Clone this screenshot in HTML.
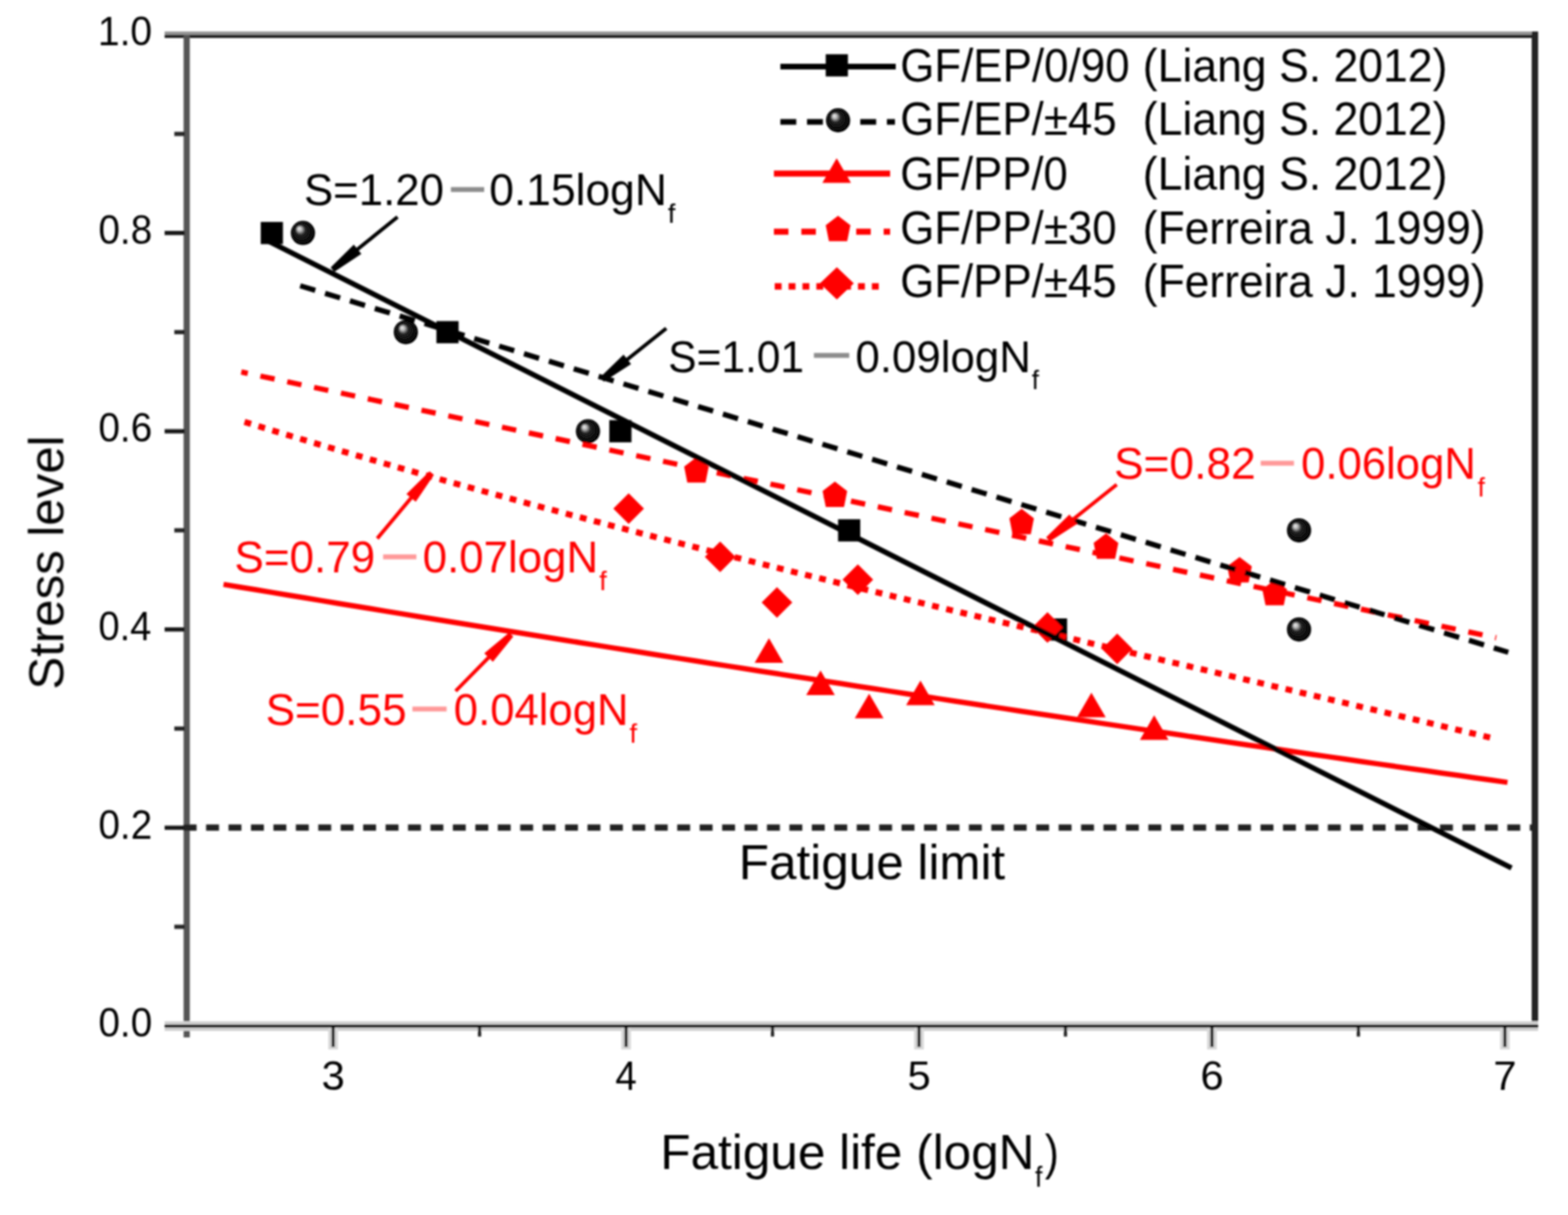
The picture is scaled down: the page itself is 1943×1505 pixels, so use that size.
<!DOCTYPE html><html><head><meta charset="utf-8"><title>Fatigue life chart</title><style>html,body{margin:0;padding:0;background:#fff;overflow:hidden}svg{display:block}</style></head><body><svg width="1943" height="1505" viewBox="0 0 1943 1505"><defs><radialGradient id="sph" cx="0.5" cy="0.5" r="0.5" fx="0.33" fy="0.3"><stop offset="0" stop-color="#f4f4f4"/><stop offset="0.18" stop-color="#bbb"/><stop offset="0.4" stop-color="#222"/><stop offset="1" stop-color="#000"/></radialGradient><filter id="bl" filterUnits="userSpaceOnUse" x="0" y="0" width="1943" height="1505"><feGaussianBlur stdDeviation="0.9"/></filter></defs><rect width="1943" height="1505" fill="#fff"/><g filter="url(#bl)" font-family="'Liberation Sans', sans-serif"><rect x="204" y="39" width="1702" height="4" fill="#949494"/><rect x="204" y="43" width="1702" height="4" fill="#1c1c1c"/><rect x="227.5" y="43" width="7.7" height="1242" fill="#545454"/><rect x="1898" y="39" width="8" height="1234" fill="#202020"/><rect x="204" y="1265" width="1702" height="12" fill="#d0d0d0"/><rect x="204" y="1269" width="1702" height="4" fill="#0a0a0a"/><rect x="204" y="1022.7" width="25" height="5.2" fill="#151515"/><rect x="204" y="777.1" width="25" height="5.2" fill="#151515"/><rect x="204" y="531.6" width="25" height="5.2" fill="#151515"/><rect x="204" y="286.0" width="25" height="5.2" fill="#151515"/><rect x="216" y="1145.4" width="13" height="5.2" fill="#252525"/><rect x="216" y="899.9" width="13" height="5.2" fill="#252525"/><rect x="216" y="654.3" width="13" height="5.2" fill="#252525"/><rect x="216" y="408.8" width="13" height="5.2" fill="#252525"/><rect x="216" y="163.3" width="13" height="5.2" fill="#252525"/><rect x="406.8" y="1273" width="12" height="27" fill="#d8d8d8"/><rect x="410.8" y="1273" width="4" height="24" fill="#222"/><rect x="769.8" y="1273" width="12" height="27" fill="#d8d8d8"/><rect x="773.8" y="1273" width="4" height="24" fill="#222"/><rect x="1132.8" y="1273" width="12" height="27" fill="#d8d8d8"/><rect x="1136.8" y="1273" width="4" height="24" fill="#222"/><rect x="1495.8" y="1273" width="12" height="27" fill="#d8d8d8"/><rect x="1499.8" y="1273" width="4" height="24" fill="#222"/><rect x="1858.8" y="1273" width="12" height="27" fill="#d8d8d8"/><rect x="1862.8" y="1273" width="4" height="24" fill="#222"/><rect x="592.3" y="1273" width="4" height="11" fill="#222"/><rect x="955.3" y="1273" width="4" height="11" fill="#222"/><rect x="1318.3" y="1273" width="4" height="11" fill="#222"/><rect x="1681.3" y="1273" width="4" height="11" fill="#222"/><rect x="323.1" y="274.9" width="27.5" height="27.5" fill="#000"/><rect x="540.8" y="397.7" width="27.5" height="27.5" fill="#000"/><rect x="755.0" y="520.4" width="27.5" height="27.5" fill="#000"/><rect x="1038.5" y="643.2" width="27.5" height="27.5" fill="#000"/><rect x="1294.8" y="766.0" width="27.5" height="27.5" fill="#000"/><circle cx="375.4" cy="288.6" r="15" fill="url(#sph)"/><circle cx="502.9" cy="411.4" r="15" fill="url(#sph)"/><circle cx="728.6" cy="534.2" r="15" fill="url(#sph)"/><circle cx="1609.7" cy="656.9" r="15" fill="url(#sph)"/><circle cx="1609.7" cy="779.7" r="15" fill="url(#sph)"/><path d="M952.9,790.5 L970.6,821.0 L935.1,821.0Z" fill="#ff0000"/><path d="M1016.8,830.6 L1034.5,861.1 L999.0,861.1Z" fill="#ff0000"/><path d="M1077.0,859.2 L1094.8,889.7 L1059.2,889.7Z" fill="#ff0000"/><path d="M1140.6,843.0 L1158.3,873.5 L1122.8,873.5Z" fill="#ff0000"/><path d="M1352.4,858.0 L1370.2,888.5 L1334.7,888.5Z" fill="#ff0000"/><path d="M1430.2,886.1 L1448.0,916.6 L1412.5,916.6Z" fill="#ff0000"/><path d="M863.0,566.2 L878.2,577.9 L874.3,597.8 L851.7,597.8 L847.8,577.9Z" fill="#ff0000"/><path d="M1034.6,596.5 L1049.8,608.2 L1045.9,628.0 L1023.3,628.0 L1019.3,608.2Z" fill="#ff0000"/><path d="M1266.0,630.2 L1281.2,641.9 L1277.3,661.8 L1254.7,661.8 L1250.8,641.9Z" fill="#ff0000"/><path d="M1370.5,660.8 L1385.8,672.4 L1381.8,692.2 L1359.2,692.2 L1355.2,672.4Z" fill="#ff0000"/><path d="M1536.0,690.0 L1551.2,701.6 L1547.3,721.5 L1524.7,721.5 L1520.8,701.6Z" fill="#ff0000"/><path d="M1579.5,718.2 L1594.8,729.9 L1590.8,749.8 L1568.2,749.8 L1564.2,729.9Z" fill="#ff0000"/><path d="M779.0,611.0 L798.0,630.0 L779.0,649.0 L760.0,630.0Z" fill="#ff0000"/><path d="M892.4,670.7 L911.4,689.7 L892.4,708.7 L873.4,689.7Z" fill="#ff0000"/><path d="M962.8,727.3 L981.8,746.3 L962.8,765.3 L943.8,746.3Z" fill="#ff0000"/><path d="M1063.0,699.0 L1082.0,718.0 L1063.0,737.0 L1044.0,718.0Z" fill="#ff0000"/><path d="M1298.0,758.3 L1317.0,777.3 L1298.0,796.3 L1279.0,777.3Z" fill="#ff0000"/><path d="M1384.4,784.8 L1403.4,803.8 L1384.4,822.8 L1365.4,803.8Z" fill="#ff0000"/><line x1="227.6" y1="1025.2" x2="1898" y2="1025.2" stroke="#222" stroke-width="7.7" stroke-dasharray="16 11.8"/><path d="M277.0,723.86 L297.1,727.22 L317.3,730.56 L337.4,733.90 L357.6,737.24 L377.7,740.57 L397.8,743.89 L418.0,747.20 L438.1,750.51 L458.3,753.82 L478.4,757.11 L498.5,760.40 L518.7,763.69 L538.8,766.96 L558.9,770.23 L579.1,773.50 L599.2,776.76 L619.4,780.01 L639.5,783.25 L659.6,786.49 L679.8,789.72 L699.9,792.95 L720.1,796.17 L740.2,799.38 L760.3,802.59 L780.5,805.79 L800.6,808.99 L820.8,812.17 L840.9,815.36 L861.0,818.53 L881.2,821.70 L901.3,824.86 L921.5,828.02 L941.6,831.17 L961.7,834.31 L981.9,837.45 L1002.0,840.58 L1022.2,843.70 L1042.3,846.82 L1062.4,849.93 L1082.6,853.04 L1102.7,856.13 L1122.8,859.23 L1143.0,862.31 L1163.1,865.39 L1183.3,868.47 L1203.4,871.53 L1223.5,874.59 L1243.7,877.65 L1263.8,880.69 L1284.0,883.73 L1304.1,886.77 L1324.2,889.80 L1344.4,892.82 L1364.5,895.84 L1384.7,898.84 L1404.8,901.85 L1424.9,904.84 L1445.1,907.83 L1465.2,910.82 L1485.4,913.80 L1505.5,916.77 L1525.6,919.73 L1545.8,922.69 L1565.9,925.64 L1586.1,928.59 L1606.2,931.53 L1626.3,934.46 L1646.5,937.38 L1666.6,940.30 L1686.7,943.22 L1706.9,946.13 L1727.0,949.03 L1747.2,951.92 L1767.3,954.81 L1787.4,957.69 L1807.6,960.57 L1827.7,963.43 L1847.9,966.30 L1868.0,969.15" fill="none" stroke="#ff0000" stroke-width="6.5"/><path d="M303.0,522.68 L322.6,528.67 L342.2,534.61 L361.8,540.51 L381.4,546.36 L401.0,552.17 L420.6,557.94 L440.3,563.66 L459.9,569.34 L479.5,574.98 L499.1,580.58 L518.7,586.14 L538.3,591.66 L557.9,597.15 L577.5,602.59 L597.1,608.00 L616.7,613.38 L636.3,618.72 L655.9,624.03 L675.5,629.30 L695.2,634.54 L714.8,639.75 L734.4,644.93 L754.0,650.08 L773.6,655.20 L793.2,660.29 L812.8,665.36 L832.4,670.39 L852.0,675.41 L871.6,680.39 L891.2,685.35 L910.8,690.29 L930.4,695.21 L950.1,700.10 L969.7,704.97 L989.3,709.83 L1008.9,714.66 L1028.5,719.47 L1048.1,724.27 L1067.7,729.04 L1087.3,733.81 L1106.9,738.55 L1126.5,743.28 L1146.1,748.00 L1165.7,752.70 L1185.3,757.39 L1204.9,762.07 L1224.6,766.74 L1244.2,771.40 L1263.8,776.05 L1283.4,780.69 L1303.0,785.32 L1322.6,789.94 L1342.2,794.56 L1361.8,799.18 L1381.4,803.78 L1401.0,808.39 L1420.6,812.99 L1440.2,817.59 L1459.8,822.19 L1479.5,826.79 L1499.1,831.38 L1518.7,835.98 L1538.3,840.58 L1557.9,845.18 L1577.5,849.79 L1597.1,854.40 L1616.7,859.01 L1636.3,863.63 L1655.9,868.26 L1675.5,872.89 L1695.1,877.53 L1714.7,882.18 L1734.4,886.84 L1754.0,891.51 L1773.6,896.20 L1793.2,900.89 L1812.8,905.59 L1832.4,910.31 L1852.0,915.05" fill="none" stroke="#ff0000" stroke-width="7.5" stroke-dasharray="8.5 9.5"/><line x1="299" y1="460.8" x2="1854" y2="790" stroke="#ff0000" stroke-width="6.5" stroke-dasharray="18 16" stroke-dashoffset="9.8"/><line x1="372" y1="354" x2="1869" y2="808" stroke="#000" stroke-width="6.5" stroke-dasharray="19.5 12.7"/><line x1="330" y1="297.3" x2="1873" y2="1075.2" stroke="#000" stroke-width="6.5"/><line x1="492.6" y1="268.7" x2="441.5" y2="310.1" stroke="#000" stroke-width="4.5"/><path d="M409.8,331.3 L438.4,303.0 L447.8,314.6 L414.2,336.7Z" fill="#000"/><line x1="825.6" y1="406.8" x2="775.8" y2="446.4" stroke="#000" stroke-width="4.5"/><path d="M743.8,467.3 L772.7,439.3 L782.0,451.0 L748.2,472.7Z" fill="#000"/><line x1="1383.8" y1="600.3" x2="1328.3" y2="644.4" stroke="#ff0000" stroke-width="4.5"/><path d="M1296.4,665.4 L1325.2,637.3 L1334.6,649.1 L1300.8,670.8Z" fill="#ff0000"/><line x1="467.5" y1="667.0" x2="510.7" y2="615.2" stroke="#ff0000" stroke-width="4.5"/><path d="M537.7,588.2 L515.2,621.5 L503.6,611.9 L532.3,583.8Z" fill="#ff0000"/><line x1="564.6" y1="856.0" x2="606.8" y2="813.1" stroke="#ff0000" stroke-width="4.5"/><path d="M636.0,788.5 L610.8,819.8 L600.1,809.2 L631.0,783.5Z" fill="#ff0000"/><line x1="967" y1="82.5" x2="1110" y2="82.5" stroke="#000" stroke-width="7"/><rect x="1023.2" y="67.2" width="27.5" height="27.5" fill="#000"/><line x1="967" y1="151" x2="1109" y2="151" stroke="#000" stroke-width="7" stroke-dasharray="19.7 13.3"/><circle cx="1038.5" cy="149.0" r="15" fill="url(#sph)"/><line x1="959" y1="215" x2="1103" y2="215" stroke="#ff0000" stroke-width="7.5"/><path d="M1036.8,196.0 L1054.5,226.5 L1019.0,226.5Z" fill="#ff0000"/><line x1="959" y1="287" x2="1103" y2="287" stroke="#ff0000" stroke-width="7.5" stroke-dasharray="18 16"/><path d="M1038.5,267.2 L1053.8,278.9 L1049.8,298.8 L1027.2,298.8 L1023.2,278.9Z" fill="#ff0000"/><line x1="960" y1="354.8" x2="1095" y2="354.8" stroke="#ff0000" stroke-width="8" stroke-dasharray="8.5 8.7"/><path d="M1037.0,331.0 L1058.0,351.0 L1037.0,371.0 L1016.0,351.0Z" fill="#ff0000"/><text transform="translate(121.90,1284.10) scale(0.9500,1)" font-size="50.5" fill="#000">0.0</text><text transform="translate(121.90,1038.56) scale(0.9500,1)" font-size="50.5" fill="#000">0.2</text><text transform="translate(121.93,793.02) scale(0.9358,1)" font-size="50.5" fill="#000">0.4</text><text transform="translate(121.90,547.48) scale(0.9500,1)" font-size="50.5" fill="#000">0.6</text><text transform="translate(121.90,301.94) scale(0.9500,1)" font-size="50.5" fill="#000">0.8</text><text transform="translate(121.16,56.40) scale(0.9609,1)" font-size="50.5" fill="#000">1.0</text><text transform="translate(398.45,1350.00) scale(1.0250,1)" font-size="50.5" fill="#000">3</text><text transform="translate(762.55,1350.00) scale(0.9462,1)" font-size="50.5" fill="#000">4</text><text transform="translate(1124.45,1350.00) scale(1.0250,1)" font-size="50.5" fill="#000">5</text><text transform="translate(1487.45,1350.00) scale(1.0250,1)" font-size="50.5" fill="#000">6</text><text transform="translate(1850.45,1350.00) scale(1.0250,1)" font-size="50.5" fill="#000">7</text><text transform="translate(1115.44,100.80) scale(0.9546,1)" font-size="57" fill="#000">GF/EP/0/90</text><text transform="translate(1416.09,100.80) scale(0.9687,1)" font-size="57" fill="#000">(Liang S. 2012)</text><text transform="translate(1115.44,167.00) scale(0.9529,1)" font-size="57" fill="#000">GF/EP/±45</text><text transform="translate(1416.09,167.00) scale(0.9687,1)" font-size="57" fill="#000">(Liang S. 2012)</text><text transform="translate(1115.45,234.60) scale(0.9507,1)" font-size="57" fill="#000">GF/PP/0</text><text transform="translate(1416.09,234.60) scale(0.9687,1)" font-size="57" fill="#000">(Liang S. 2012)</text><text transform="translate(1115.44,301.50) scale(0.9529,1)" font-size="57" fill="#000">GF/PP/±30</text><text transform="translate(1416.11,301.50) scale(0.9650,1)" font-size="57" fill="#000">(Ferreira J. 1999)</text><text transform="translate(1115.44,368.40) scale(0.9529,1)" font-size="57" fill="#000">GF/PP/±45</text><text transform="translate(1416.11,368.40) scale(0.9650,1)" font-size="57" fill="#000">(Ferreira J. 1999)</text><text transform="translate(376.69,254.30) scale(0.9684,1)" font-size="56" fill="#000">S=1.20</text><text transform="translate(606.24,254.30) scale(0.9821,1)" font-size="56" fill="#000">0.15logN</text><text transform="translate(827.50,275.80) scale(1.0000,1)" font-size="34" fill="#000">f</text><text transform="translate(828.08,460.50) scale(0.9397,1)" font-size="56" fill="#000">S=1.01</text><text transform="translate(1059.96,460.50) scale(0.9706,1)" font-size="56" fill="#000">0.09logN</text><text transform="translate(1278.50,482.00) scale(0.9500,1)" font-size="34" fill="#000">f</text><text transform="translate(1380.46,593.10) scale(0.9803,1)" font-size="56" fill="#ff0000">S=0.82</text><text transform="translate(1612.37,593.10) scale(0.9656,1)" font-size="56" fill="#ff0000">0.06logN</text><text transform="translate(1831.00,614.60) scale(0.9600,1)" font-size="34" fill="#ff0000">f</text><text transform="translate(290.48,709.30) scale(0.9747,1)" font-size="56" fill="#ff0000">S=0.79</text><text transform="translate(523.66,709.30) scale(0.9711,1)" font-size="56" fill="#ff0000">0.07logN</text><text transform="translate(742.50,730.80) scale(1.0000,1)" font-size="34" fill="#ff0000">f</text><text transform="translate(329.17,898.00) scale(0.9753,1)" font-size="56" fill="#ff0000">S=0.55</text><text transform="translate(562.37,898.00) scale(0.9656,1)" font-size="56" fill="#ff0000">0.04logN</text><text transform="translate(780.00,919.50) scale(1.0000,1)" font-size="34" fill="#ff0000">f</text><text transform="translate(915.56,1088.80) scale(0.9878,1)" font-size="62" fill="#000">Fatigue limit</text><text transform="translate(818.21,1448.00) scale(0.9974,1)" font-size="61.5" fill="#000">Fatigue life (logN</text><text transform="translate(1282.50,1470.00) scale(0.9500,1)" font-size="35" fill="#000">f</text><text transform="translate(1294.66,1448.00) scale(0.8438,1)" font-size="61.5" fill="#000">)</text><text transform="translate(78.40,854.25) rotate(-90) scale(0.9827,1)" font-size="62" fill="#000">Stress level</text><text transform="translate(557.39,255.80) scale(0.8061,1)" font-family="'Liberation Sans', 'Noto Sans CJK SC', sans-serif" font-size="54" fill="#8c8c8c" stroke="#8c8c8c" stroke-width="1.6">一</text><text transform="translate(1007.29,462.00) scale(0.8571,1)" font-family="'Liberation Sans', 'Noto Sans CJK SC', sans-serif" font-size="54" fill="#8c8c8c" stroke="#8c8c8c" stroke-width="1.6">一</text><text transform="translate(1561.09,594.60) scale(0.8061,1)" font-family="'Liberation Sans', 'Noto Sans CJK SC', sans-serif" font-size="54" fill="#ff9a9a" stroke="#ff9a9a" stroke-width="1.6">一</text><text transform="translate(473.59,710.80) scale(0.8061,1)" font-family="'Liberation Sans', 'Noto Sans CJK SC', sans-serif" font-size="54" fill="#ff9a9a" stroke="#ff9a9a" stroke-width="1.6">一</text><text transform="translate(509.84,899.50) scale(0.8306,1)" font-family="'Liberation Sans', 'Noto Sans CJK SC', sans-serif" font-size="54" fill="#ff9a9a" stroke="#ff9a9a" stroke-width="1.6">一</text></g></svg></body></html>
